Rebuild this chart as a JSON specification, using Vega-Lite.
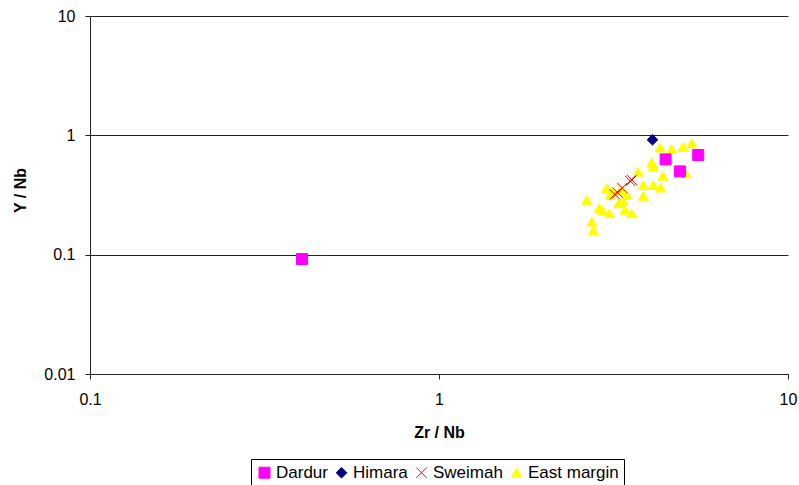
{
  "$schema": "https://vega.github.io/schema/vega-lite/v6.json",
  "width": 698,
  "height": 358,
  "autosize": {"type": "none"},
  "padding": {"left": 90, "top": 16, "right": 11, "bottom": 111},
  "background": "white",
  "config": {
    "font": "Liberation Sans",
    "view": {"stroke": null},
    "axis": {"labelFont": "Liberation Sans", "titleFont": "Liberation Sans", "labelColor": "#000", "titleColor": "#000"},
    "legend": {"labelFont": "Liberation Sans"}
  },
  "data": {
    "values": [
      {"series": "East margin", "zr_nb": 2.65, "y_nb": 0.287},
      {"series": "East margin", "zr_nb": 2.88, "y_nb": 0.247},
      {"series": "East margin", "zr_nb": 2.94, "y_nb": 0.235},
      {"series": "East margin", "zr_nb": 3.08, "y_nb": 0.222},
      {"series": "East margin", "zr_nb": 2.74, "y_nb": 0.189},
      {"series": "East margin", "zr_nb": 2.77, "y_nb": 0.160},
      {"series": "East margin", "zr_nb": 3.02, "y_nb": 0.360},
      {"series": "East margin", "zr_nb": 3.09, "y_nb": 0.316},
      {"series": "East margin", "zr_nb": 3.16, "y_nb": 0.341},
      {"series": "East margin", "zr_nb": 3.27, "y_nb": 0.269},
      {"series": "East margin", "zr_nb": 3.37, "y_nb": 0.281},
      {"series": "East margin", "zr_nb": 3.41, "y_nb": 0.237},
      {"series": "East margin", "zr_nb": 3.57, "y_nb": 0.222},
      {"series": "East margin", "zr_nb": 3.45, "y_nb": 0.316},
      {"series": "East margin", "zr_nb": 3.34, "y_nb": 0.348},
      {"series": "East margin", "zr_nb": 3.72, "y_nb": 0.495},
      {"series": "East margin", "zr_nb": 3.85, "y_nb": 0.383},
      {"series": "East margin", "zr_nb": 3.85, "y_nb": 0.310},
      {"series": "East margin", "zr_nb": 4.11, "y_nb": 0.383},
      {"series": "East margin", "zr_nb": 4.32, "y_nb": 0.364},
      {"series": "East margin", "zr_nb": 4.38, "y_nb": 0.458},
      {"series": "East margin", "zr_nb": 4.07, "y_nb": 0.594},
      {"series": "East margin", "zr_nb": 4.11, "y_nb": 0.546},
      {"series": "East margin", "zr_nb": 4.30, "y_nb": 0.787},
      {"series": "East margin", "zr_nb": 4.64, "y_nb": 0.768},
      {"series": "East margin", "zr_nb": 5.01, "y_nb": 0.803},
      {"series": "East margin", "zr_nb": 5.30, "y_nb": 0.857},
      {"series": "East margin", "zr_nb": 5.10, "y_nb": 0.480},
      {"series": "Dardur", "zr_nb": 0.405, "y_nb": 0.092},
      {"series": "Dardur", "zr_nb": 4.46, "y_nb": 0.629},
      {"series": "Dardur", "zr_nb": 5.53, "y_nb": 0.684},
      {"series": "Dardur", "zr_nb": 4.90, "y_nb": 0.499},
      {"series": "Himara", "zr_nb": 4.09, "y_nb": 0.918},
      {"series": "Sweimah", "zr_nb": 3.25, "y_nb": 0.330},
      {"series": "Sweimah", "zr_nb": 3.19, "y_nb": 0.320},
      {"series": "Sweimah", "zr_nb": 3.35, "y_nb": 0.362},
      {"series": "Sweimah", "zr_nb": 3.53, "y_nb": 0.414},
      {"series": "Sweimah", "zr_nb": 3.57, "y_nb": 0.422}
    ]
  },
  "mark": {"type": "point", "filled": true, "strokeWidth": 1, "opacity": 1},
  "encoding": {
    "x": {
      "field": "zr_nb", "type": "quantitative", "title": "Zr / Nb",
      "scale": {"type": "log", "domain": [0.1, 10], "nice": false},
      "axis": {
        "values": [0.1, 1, 10], "format": "~g", "grid": false,
        "domainColor": "#222", "tickColor": "#222", "tickSize": 5,
        "labelFontSize": 16, "labelPadding": 12, "labelFlush": false,
        "titleFontSize": 16, "titleFontWeight": "bold",
        "titleX": 349, "titleY": 58.5, "titleBaseline": "middle"
      }
    },
    "y": {
      "field": "y_nb", "type": "quantitative", "title": "Y / Nb",
      "scale": {"type": "log", "domain": [0.01, 10], "nice": false},
      "axis": {
        "values": [0.01, 0.1, 1, 10], "format": "~g", "grid": true,
        "gridColor": "#222", "gridWidth": 1,
        "domainColor": "#222", "tickColor": "#222", "tickSize": 5,
        "labelFontSize": 16, "labelPadding": 10, "labelFlush": false,
        "titleFontSize": 16, "titleFontWeight": "bold",
        "titleAngle": -90, "titleX": -70, "titleY": 174,
        "titleAlign": "center", "titleBaseline": "middle"
      }
    },
    "fill": {
      "field": "series", "type": "nominal", "title": null,
      "scale": {"domain": ["Dardur", "Himara", "Sweimah", "East margin"], "range": ["#FF00FF", "#000080", "#FF0000", "#FFFF00"]},
      "legend": {
        "orient": "none", "legendX": 161, "legendY": 443, "direction": "horizontal",
        "strokeColor": "#000", "padding": 5, "labelFontSize": 17, "labelOffset": 3,
        "columnPadding": 5, "symbolStrokeWidth": 1
      }
    },
    "stroke": {
      "field": "series", "type": "nominal", "title": null,
      "scale": {"domain": ["Dardur", "Himara", "Sweimah", "East margin"], "range": ["#FF00FF", "#000080", "#FF0000", "#FFFF00"]}
    },
    "shape": {
      "field": "series", "type": "nominal", "title": null,
      "scale": {"domain": ["Dardur", "Himara", "Sweimah", "East margin"], "range": ["square", "diamond", "M-1,-1L1,1M-1,1L1,-1", "triangle-up"]}
    },
    "size": {
      "field": "series", "type": "nominal", "title": null,
      "scale": {"domain": ["Dardur", "Himara", "Sweimah", "East margin"], "range": [121, 100, 121, 75]}
    }
  }
}
